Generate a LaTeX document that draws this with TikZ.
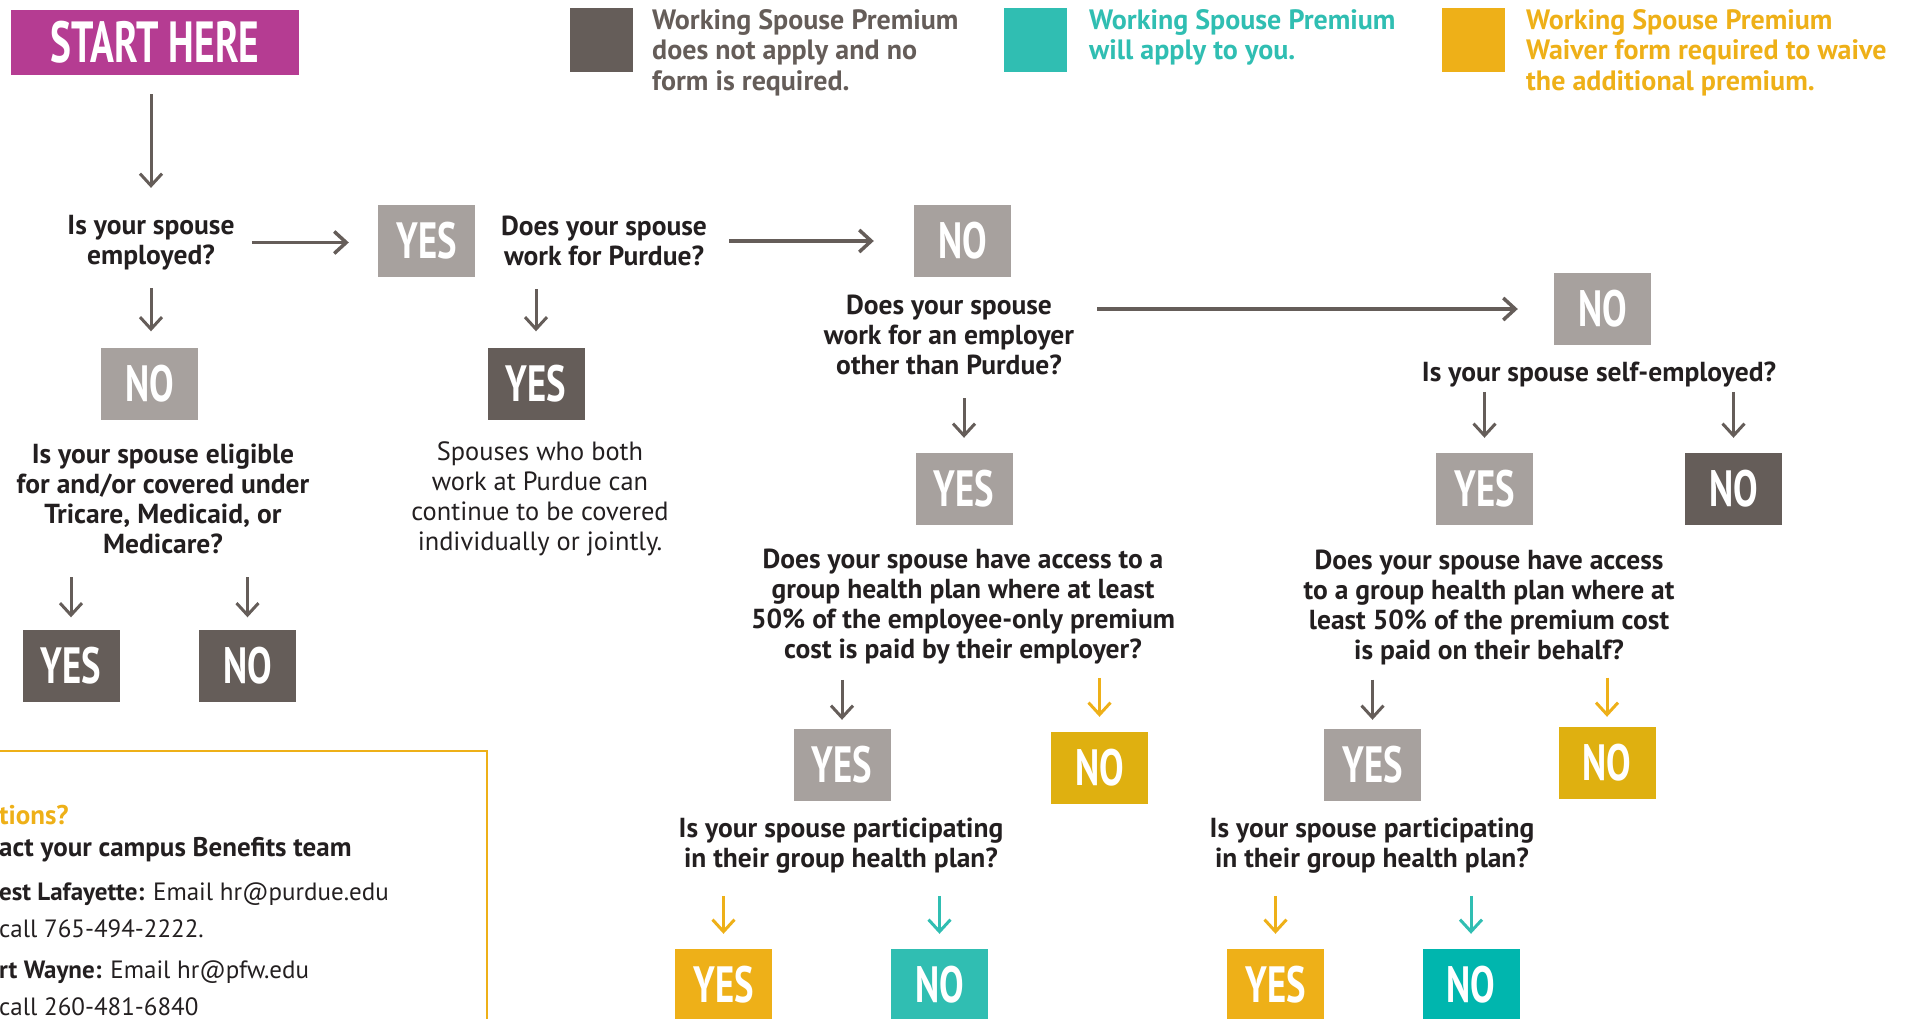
\documentclass[tikz,border=0pt]{standalone}
\usepackage{fontspec}
\setmainfont{PT Sans}
\newfontfamily\ynfont{PT Sans}[FakeStretch=0.72]
\newfontfamily\stfont{PT Sans}[FakeStretch=0.68]
\usetikzlibrary{arrows.meta}
\definecolor{magentaC}{HTML}{B53C92}
\definecolor{darkC}{HTML}{655D59}
\definecolor{lightC}{HTML}{A7A19E}
\definecolor{tealC}{HTML}{30BEB2}
\definecolor{tealD}{HTML}{00B6AE}
\definecolor{goldC}{HTML}{EEB018}
\definecolor{goldD}{HTML}{DFB010}
\definecolor{qtext}{HTML}{231F20}
\tikzset{
  ansbox/.style={minimum width=97pt, minimum height=72pt, inner sep=0pt, text=white,
    font=\ynfont\bfseries\fontsize{51}{51}\selectfont},
  lbox/.style={ansbox, fill=lightC},
  dbox/.style={ansbox, fill=darkC},
  gbox/.style={ansbox, fill=goldC},
  gdbox/.style={ansbox, fill=goldD},
  tbox/.style={ansbox, fill=tealC},
  qnode/.style={align=center, inner sep=0pt, text=qtext, font=\bfseries\fontsize{27.5}{30}\selectfont},
  pnode/.style={align=center, inner sep=0pt, text=qtext, font=\fontsize{26.4}{30}\selectfont},
  legtext/.style={align=left, inner sep=0pt, anchor=north west, font=\bfseries\fontsize{28}{30.5}\selectfont},
  legbox/.style={minimum width=63pt, minimum height=64pt, inner sep=0pt},
  ctext/.style={anchor=west, inner sep=0pt, text=qtext, font=\fontsize{25}{30}\selectfont},
  cbold/.style={ctext, font=\bfseries\fontsize{27}{30}\selectfont},
  arr/.style={draw=darkC, line width=3pt, -{Straight Barb[length=12pt,width=22pt]}},
  harr/.style={arr, line width=3.5pt},
  garr/.style={arr, draw=goldC},
  tarr/.style={arr, draw=tealC},
}
\begin{document}
\begin{tikzpicture}[x=1pt,y=-1pt]
\useasboundingbox (0,0) rectangle (1906,1018);
% start
\node[fill=magentaC, minimum width=288pt, minimum height=65pt, inner sep=0pt, text=white,
  font=\stfont\bfseries\fontsize{58}{58}\selectfont] (start) at (155,42.5) {START HERE};
% legend
\node[legbox, fill=darkC] (lg1) at (601.5,40) {};
\node[legtext, text=darkC] (lt1) at (652,9) {Working Spouse Premium\\does not apply and no\\form is required.};
\node[legbox, fill=tealC] (lg2) at (1035.5,40) {};
\node[legtext, text=tealC] (lt2) at (1089,9) {Working Spouse Premium\\will apply to you.};
\node[legbox, fill=goldC] (lg3) at (1473.5,40) {};
\node[legtext, text=goldC] (lt3) at (1526,9) {Working Spouse Premium\\Waiver form required to waive\\the additional premium.};
% questions
\node[qnode] (q1) at (151,242.5) {Is your spouse\\employed?};
\node[qnode] (q2) at (604,241) {Does your spouse\\work for Purdue?};
\node[qnode] (q3) at (949,335) {Does your spouse\\work for an employer\\other than Purdue?};
\node[qnode] (q4) at (1599,374) {Is your spouse self-employed?};
\node[qnode] (q5) at (163,499) {Is your spouse eligible\\for and/or covered under\\Tricare, Medicaid, or\\Medicare?};
\node[pnode] (t2) at (540,499) {Spouses who both\\work at Purdue can\\continue to be covered\\individually or jointly.};
\node[qnode] (q6) at (963,607) {Does your spouse have access to a\\group health plan where at least\\50\% of the employee-only premium\\cost is paid by their employer?};
\node[qnode] (q7) at (1489,607) {Does your spouse have access\\to a group health plan where at\\least 50\% of the premium cost\\is paid on their behalf?};
\node[qnode] (q8) at (841,846) {Is your spouse participating\\in their group health plan?};
\node[qnode] (q9) at (1372,846) {Is your spouse participating\\in their group health plan?};
% answer boxes
\node[lbox] (y1) at (426.5,241) {YES};
\node[lbox] (n2) at (962.5,241) {NO};
\node[lbox] (n3) at (1602.5,309) {NO};
\node[lbox] (n1) at (149.5,383.5) {NO};
\node[dbox] (y2) at (536,383.5) {YES};
\node[lbox] (y4) at (964,489) {YES};
\node[lbox] (y5) at (1484.5,489) {YES};
\node[dbox] (n5) at (1733.5,489) {NO};
\node[dbox] (yl) at (71,665.5) {YES};
\node[dbox] (nl) at (247.5,665.5) {NO};
\node[lbox] (y6) at (842,765) {YES};
\node[gdbox] (n6) at (1099.5,768) {NO};
\node[lbox] (y7) at (1372.5,765) {YES};
\node[gdbox] (n7) at (1607,763) {NO};
\node[gbox] (y8) at (723.5,985) {YES};
\node[tbox] (n8) at (939.5,985) {NO};
\node[gbox] (y9) at (1275.5,985) {YES};
\node[ansbox, fill=tealD] (n9) at (1471,985) {NO};
% connectors
\draw[arr, shorten <=19pt, shorten >=27pt] (start.south -| q1.north) -- (q1.north);
\draw[harr, shorten <=17pt, shorten >=29pt] (q1.east) -- (q1.east -| y1.west);
\draw[arr, shorten <=18pt, shorten >=16pt] (q1.south) -- (q1.south |- n1.north);
\draw[harr, shorten <=22pt, shorten >=40pt] (q2.east) -- (q2.east -| n2.west);
\draw[arr, shorten <=23pt, shorten >=16pt] (q2.south -| y2.north) -- (y2.north);
\draw[harr, shorten <=23pt, shorten >=36pt] (q3.east |- n3.west) -- (n3.west);
\draw[arr, shorten <=23pt, shorten >=15pt] (q3.south -| y4.north) -- (y4.north);
\draw[arr, shorten <=5pt, shorten >=15pt] (q4.south -| y5.north) -- (y5.north);
\draw[arr, shorten <=5pt, shorten >=15pt] (q4.south -| n5.north) -- (n5.north);
\draw[arr, shorten <=23pt, shorten >=12pt] (q5.south -| yl.north) -- (yl.north);
\draw[arr, shorten <=23pt, shorten >=12pt] (q5.south -| nl.north) -- (nl.north);
\draw[arr, shorten <=15pt, shorten >=9pt] (q6.south -| y6.north) -- (y6.north);
\draw[garr, shorten <=13pt, shorten >=15pt] (q6.south -| n6.north) -- (n6.north);
\draw[arr, shorten <=15pt, shorten >=9pt] (q7.south -| y7.north) -- (y7.north);
\draw[garr, shorten <=13pt, shorten >=10pt] (q7.south -| n7.north) -- (n7.north);
\draw[garr, shorten <=22pt, shorten >=15pt] (q8.south -| y8.north) -- (y8.north);
\draw[tarr, shorten <=22pt, shorten >=15pt] (q8.south -| n8.north) -- (n8.north);
\draw[garr, shorten <=22pt, shorten >=15pt] (q9.south -| y9.north) -- (y9.north);
\draw[tarr, shorten <=22pt, shorten >=15pt] (q9.south -| n9.north) -- (n9.north);
% contact box
\draw[goldC, line width=2pt] (-10,751) -- (487,751) -- (487,1030);
\node[cbold, text=goldC] (c1) at (-1,815) {tions?};
\node[cbold] (c2) at (-1,850) {act your campus Benefits team};
\node[ctext] (c3) at (-1,894) {\textbf{est Lafayette:} Email hr@purdue.edu};
\node[ctext] (c4) at (-1,929) {call 765-494-2222.};
\node[ctext] (c5) at (-1,972) {\textbf{rt Wayne:} Email hr@pfw.edu};
\node[ctext] (c6) at (-1,1007) {call 260-481-6840};
\end{tikzpicture}
\end{document}
